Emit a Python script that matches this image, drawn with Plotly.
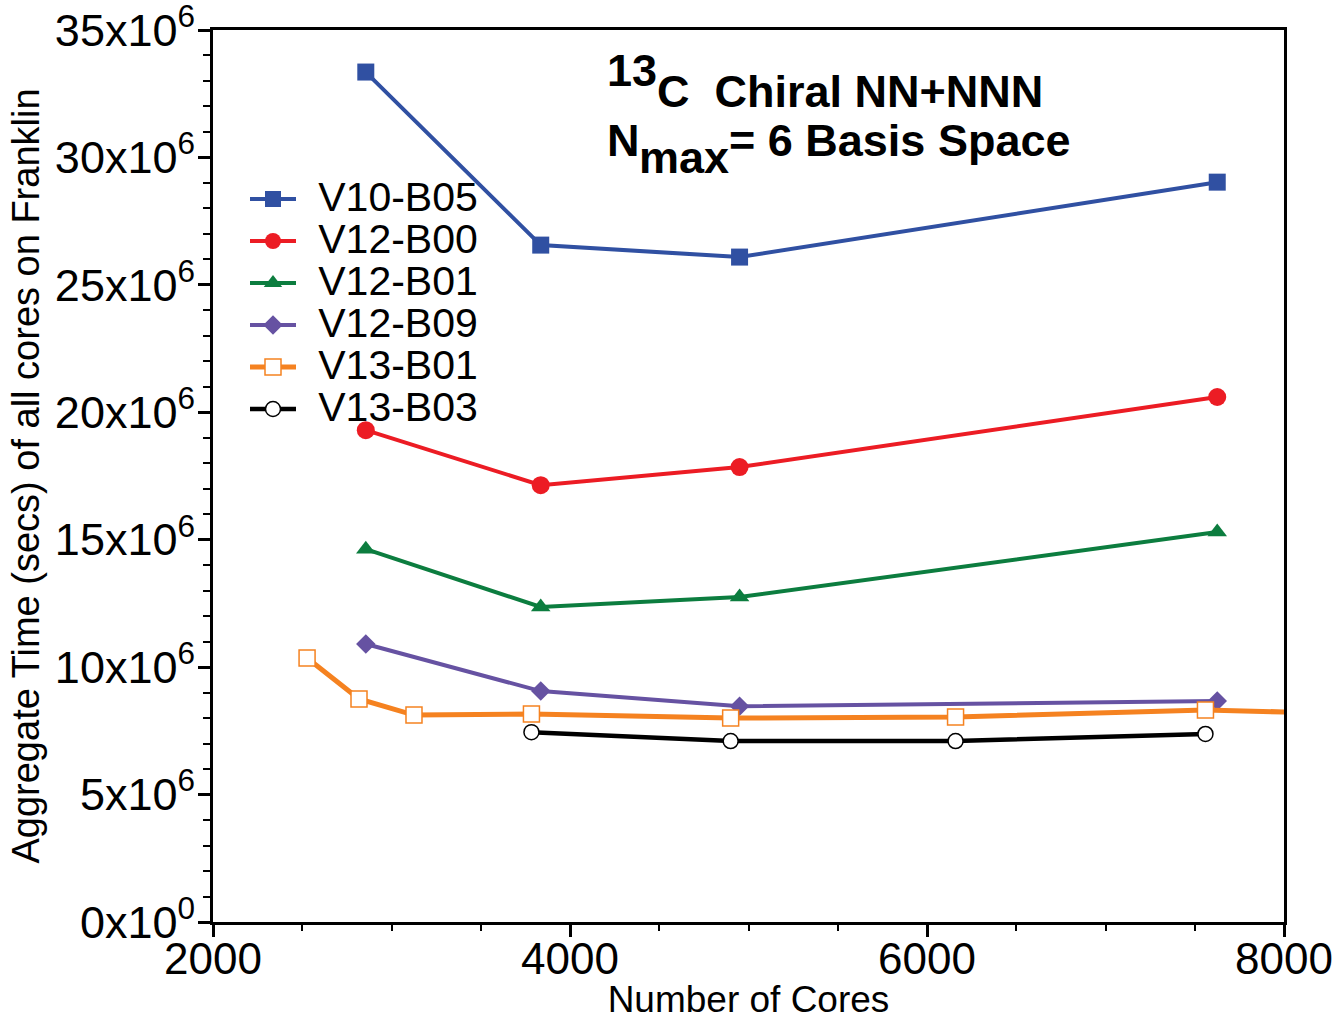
import plotly.graph_objects as go

# ---- data ----
cores_v10_v12 = [2856, 3836, 4950, 7626]
v10_b05 = [33.35e6, 26.56e6, 26.09e6, 29.03e6]
v12_b00 = [19.30e6, 17.14e6, 17.85e6, 20.60e6]
v12_b01 = [14.63e6, 12.36e6, 12.75e6, 15.30e6]
v12_b09 = [10.91e6, 9.06e6, 8.47e6, 8.67e6]

cores_v13_b01 = [2527, 2818, 3126, 3784, 4900, 6160, 7560, 9000]
v13_b01 = [10.36e6, 8.75e6, 8.12e6, 8.16e6, 8.00e6, 8.04e6, 8.32e6, 8.06e6]

cores_v13_b03 = [3784, 4900, 6160, 7560]
v13_b03 = [7.45e6, 7.10e6, 7.10e6, 7.38e6]

y_tickvals = [0, 5e6, 10e6, 15e6, 20e6, 25e6, 30e6, 35e6]
y_ticktext = ["0x10<sup>0</sup>", "5x10<sup>6</sup>", "10x10<sup>6</sup>", "15x10<sup>6</sup>",
              "20x10<sup>6</sup>", "25x10<sup>6</sup>", "30x10<sup>6</sup>", "35x10<sup>6</sup>"]
x_tickvals = [2000, 4000, 6000, 8000]
x_ticktext = ["2000", "4000", "6000", "8000"]

FONT = "Liberation Sans, Arial, Helvetica, sans-serif"

# full-window figure; the page body margin is removed by a post script
W, H = 1336, 1020
PL, PR, PT, PB = 213, 1284, 30, 922   # plot-area edges in window pixels
L, R, T, B = PL, W - PR, PT, H - PB


def px_x(px):
    return (px - PL) / (PR - PL)


def px_y(py):
    return (PB - py) / (PB - PT)


def leg(name):
    return f"<span style='font-size:62px'>\u00a0</span><span style='font-size:41px'>{name}</span>"


fig = go.Figure()

fig.add_trace(go.Scatter(x=cores_v10_v12, y=v10_b05, name=leg("V10-B05"), mode="lines+markers",
                         line=dict(color="#3050A2", width=4),
                         marker=dict(symbol="square", size=17, color="#3050A2")))
fig.add_trace(go.Scatter(x=cores_v10_v12, y=v12_b00, name=leg("V12-B00"), mode="lines+markers",
                         line=dict(color="#EC1C24", width=4),
                         marker=dict(symbol="circle", size=18, color="#EC1C24")))
fig.add_trace(go.Scatter(x=cores_v10_v12, y=v12_b01, name=leg("V12-B01"), mode="lines+markers",
                         line=dict(color="#0C7D3F", width=4),
                         marker=dict(symbol="triangle-up", size=17, color="#0C7D3F")))
fig.add_trace(go.Scatter(x=cores_v10_v12, y=v12_b09, name=leg("V12-B09"), mode="lines+markers",
                         line=dict(color="#6652A2", width=4),
                         marker=dict(symbol="diamond", size=15, color="#6652A2")))
fig.add_trace(go.Scatter(x=cores_v13_b01, y=v13_b01, name=leg("V13-B01"), mode="lines+markers",
                         line=dict(color="#F58220", width=5),
                         marker=dict(symbol="square", size=16, color="white",
                                     line=dict(color="#F58220", width=1.5))))
fig.add_trace(go.Scatter(x=cores_v13_b03, y=v13_b03, name=leg("V13-B03"), mode="lines+markers",
                         line=dict(color="black", width=4.5),
                         marker=dict(symbol="circle", size=15, color="white",
                                     line=dict(color="black", width=1.5))))

ann_font = dict(family=FONT, size=45, color="black")
annotations = [
    dict(text="<b>13</b>", x=px_x(605), y=px_y(70)),
    dict(text="<b>C\u00a0\u00a0Chiral NN+NNN</b>", x=px_x(655), y=px_y(92)),
    dict(text="<b>N</b>", x=px_x(605), y=px_y(140)),
    dict(text="<b>max</b>", x=px_x(637), y=px_y(157)),
    dict(text="<b>= 6 Basis Space</b>", x=px_x(727), y=px_y(140)),
]
for a in annotations:
    a.update(xref="paper", yref="paper", xanchor="left", yanchor="middle",
             showarrow=False, font=ann_font)

fig.update_layout(
    width=W, height=H,
    margin=dict(l=L, r=R, t=T, b=B, autoexpand=False),
    paper_bgcolor="white", plot_bgcolor="white",
    font=dict(family=FONT, color="black"),
    showlegend=True,
    legend=dict(x=px_x(245), y=px_y(173), xanchor="left", yanchor="top",
                bgcolor="rgba(0,0,0,0)", font=dict(family=FONT, size=30, color="black"),
                itemwidth=46, tracegroupgap=0),
    annotations=annotations,
    xaxis=dict(range=[2000, 8000], tickvals=x_tickvals, ticktext=x_ticktext,
               showgrid=False, zeroline=False, showline=True, linecolor="black", linewidth=3,
               mirror=True, ticks="outside", ticklen=12, tickwidth=3, tickcolor="black",
               minor=dict(dtick=500, ticks="outside", ticklen=6, tickwidth=2, tickcolor="black"),
               tickfont=dict(family=FONT, size=44, color="black"), automargin=True,
               ticklabelstandoff=-16, ticklabeloverflow="allow",
               title=dict(text="Number of Cores", font=dict(family=FONT, size=37, color="black"),
                          standoff=5)),
    yaxis=dict(range=[0, 35e6], tickvals=y_tickvals, ticktext=y_ticktext,
               showgrid=False, zeroline=False, showline=True, linecolor="black", linewidth=3,
               mirror=True, ticks="outside", ticklen=12, tickwidth=3, tickcolor="black",
               minor=dict(dtick=1e6, ticks="outside", ticklen=7, tickwidth=2, tickcolor="black"),
               tickfont=dict(family=FONT, size=45, color="black"), automargin=False,
               ticklabelstandoff=-6, ticklabeloverflow="allow",
               title=dict(text="Aggregate Time (secs) of all cores on Franklin",
                          font=dict(family=FONT, size=38, color="black"), standoff=4)),
)

fig.write_html("out.html",
               config={"displayModeBar": False},
               post_script="document.body.style.margin='0';document.body.style.overflow='hidden';")
